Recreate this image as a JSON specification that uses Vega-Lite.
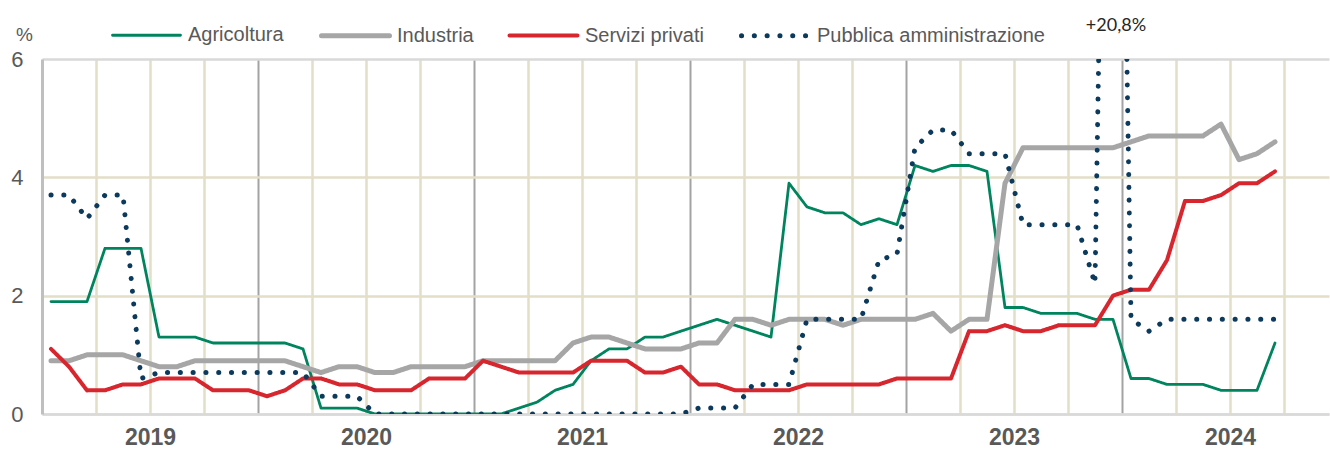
{
  "$schema": "https://vega.github.io/schema/vega-lite/v6.json",
  "width": 1287,
  "height": 355,
  "autosize": {"type": "none"},
  "padding": {"left": 42, "top": 59, "right": 1, "bottom": 35},
  "background": "#ffffff",
  "datasets": {
    "serie": [
      {"m":1,"s":"Agricoltura","v":1.9},{"m":2,"s":"Agricoltura","v":1.9},{"m":3,"s":"Agricoltura","v":1.9},{"m":4,"s":"Agricoltura","v":2.8},{"m":5,"s":"Agricoltura","v":2.8},{"m":6,"s":"Agricoltura","v":2.8},
      {"m":7,"s":"Agricoltura","v":1.3},{"m":8,"s":"Agricoltura","v":1.3},{"m":9,"s":"Agricoltura","v":1.3},{"m":10,"s":"Agricoltura","v":1.2},{"m":11,"s":"Agricoltura","v":1.2},{"m":12,"s":"Agricoltura","v":1.2},
      {"m":13,"s":"Agricoltura","v":1.2},{"m":14,"s":"Agricoltura","v":1.2},{"m":15,"s":"Agricoltura","v":1.1},{"m":16,"s":"Agricoltura","v":0.1},{"m":17,"s":"Agricoltura","v":0.1},{"m":18,"s":"Agricoltura","v":0.1},
      {"m":19,"s":"Agricoltura","v":0},{"m":20,"s":"Agricoltura","v":0},{"m":21,"s":"Agricoltura","v":0},{"m":22,"s":"Agricoltura","v":0},{"m":23,"s":"Agricoltura","v":0},{"m":24,"s":"Agricoltura","v":0},
      {"m":25,"s":"Agricoltura","v":0},{"m":26,"s":"Agricoltura","v":0},{"m":27,"s":"Agricoltura","v":0.1},{"m":28,"s":"Agricoltura","v":0.2},{"m":29,"s":"Agricoltura","v":0.4},{"m":30,"s":"Agricoltura","v":0.5},
      {"m":31,"s":"Agricoltura","v":0.9},{"m":32,"s":"Agricoltura","v":1.1},{"m":33,"s":"Agricoltura","v":1.1},{"m":34,"s":"Agricoltura","v":1.3},{"m":35,"s":"Agricoltura","v":1.3},{"m":36,"s":"Agricoltura","v":1.4},
      {"m":37,"s":"Agricoltura","v":1.5},{"m":38,"s":"Agricoltura","v":1.6},{"m":39,"s":"Agricoltura","v":1.5},{"m":40,"s":"Agricoltura","v":1.4},{"m":41,"s":"Agricoltura","v":1.3},{"m":42,"s":"Agricoltura","v":3.9},
      {"m":43,"s":"Agricoltura","v":3.5},{"m":44,"s":"Agricoltura","v":3.4},{"m":45,"s":"Agricoltura","v":3.4},{"m":46,"s":"Agricoltura","v":3.2},{"m":47,"s":"Agricoltura","v":3.3},{"m":48,"s":"Agricoltura","v":3.2},
      {"m":49,"s":"Agricoltura","v":4.2},{"m":50,"s":"Agricoltura","v":4.1},{"m":51,"s":"Agricoltura","v":4.2},{"m":52,"s":"Agricoltura","v":4.2},{"m":53,"s":"Agricoltura","v":4.1},{"m":54,"s":"Agricoltura","v":1.8},
      {"m":55,"s":"Agricoltura","v":1.8},{"m":56,"s":"Agricoltura","v":1.7},{"m":57,"s":"Agricoltura","v":1.7},{"m":58,"s":"Agricoltura","v":1.7},{"m":59,"s":"Agricoltura","v":1.6},{"m":60,"s":"Agricoltura","v":1.6},
      {"m":61,"s":"Agricoltura","v":0.6},{"m":62,"s":"Agricoltura","v":0.6},{"m":63,"s":"Agricoltura","v":0.5},{"m":64,"s":"Agricoltura","v":0.5},{"m":65,"s":"Agricoltura","v":0.5},{"m":66,"s":"Agricoltura","v":0.4},
      {"m":67,"s":"Agricoltura","v":0.4},{"m":68,"s":"Agricoltura","v":0.4},{"m":69,"s":"Agricoltura","v":1.2},

      {"m":1,"s":"Industria","v":0.9},{"m":2,"s":"Industria","v":0.9},{"m":3,"s":"Industria","v":1.0},{"m":4,"s":"Industria","v":1.0},{"m":5,"s":"Industria","v":1.0},{"m":6,"s":"Industria","v":0.9},
      {"m":7,"s":"Industria","v":0.8},{"m":8,"s":"Industria","v":0.8},{"m":9,"s":"Industria","v":0.9},{"m":10,"s":"Industria","v":0.9},{"m":11,"s":"Industria","v":0.9},{"m":12,"s":"Industria","v":0.9},
      {"m":13,"s":"Industria","v":0.9},{"m":14,"s":"Industria","v":0.9},{"m":15,"s":"Industria","v":0.8},{"m":16,"s":"Industria","v":0.7},{"m":17,"s":"Industria","v":0.8},{"m":18,"s":"Industria","v":0.8},
      {"m":19,"s":"Industria","v":0.7},{"m":20,"s":"Industria","v":0.7},{"m":21,"s":"Industria","v":0.8},{"m":22,"s":"Industria","v":0.8},{"m":23,"s":"Industria","v":0.8},{"m":24,"s":"Industria","v":0.8},
      {"m":25,"s":"Industria","v":0.9},{"m":26,"s":"Industria","v":0.9},{"m":27,"s":"Industria","v":0.9},{"m":28,"s":"Industria","v":0.9},{"m":29,"s":"Industria","v":0.9},{"m":30,"s":"Industria","v":1.2},
      {"m":31,"s":"Industria","v":1.3},{"m":32,"s":"Industria","v":1.3},{"m":33,"s":"Industria","v":1.2},{"m":34,"s":"Industria","v":1.1},{"m":35,"s":"Industria","v":1.1},{"m":36,"s":"Industria","v":1.1},
      {"m":37,"s":"Industria","v":1.2},{"m":38,"s":"Industria","v":1.2},{"m":39,"s":"Industria","v":1.6},{"m":40,"s":"Industria","v":1.6},{"m":41,"s":"Industria","v":1.5},{"m":42,"s":"Industria","v":1.6},
      {"m":43,"s":"Industria","v":1.6},{"m":44,"s":"Industria","v":1.6},{"m":45,"s":"Industria","v":1.5},{"m":46,"s":"Industria","v":1.6},{"m":47,"s":"Industria","v":1.6},{"m":48,"s":"Industria","v":1.6},
      {"m":49,"s":"Industria","v":1.6},{"m":50,"s":"Industria","v":1.7},{"m":51,"s":"Industria","v":1.4},{"m":52,"s":"Industria","v":1.6},{"m":53,"s":"Industria","v":1.6},{"m":54,"s":"Industria","v":3.9},
      {"m":55,"s":"Industria","v":4.5},{"m":56,"s":"Industria","v":4.5},{"m":57,"s":"Industria","v":4.5},{"m":58,"s":"Industria","v":4.5},{"m":59,"s":"Industria","v":4.5},{"m":60,"s":"Industria","v":4.5},
      {"m":61,"s":"Industria","v":4.6},{"m":62,"s":"Industria","v":4.7},{"m":63,"s":"Industria","v":4.7},{"m":64,"s":"Industria","v":4.7},{"m":65,"s":"Industria","v":4.7},{"m":66,"s":"Industria","v":4.9},
      {"m":67,"s":"Industria","v":4.3},{"m":68,"s":"Industria","v":4.4},{"m":69,"s":"Industria","v":4.6},

      {"m":1,"s":"Servizi privati","v":1.1},{"m":2,"s":"Servizi privati","v":0.8},{"m":3,"s":"Servizi privati","v":0.4},{"m":4,"s":"Servizi privati","v":0.4},{"m":5,"s":"Servizi privati","v":0.5},{"m":6,"s":"Servizi privati","v":0.5},
      {"m":7,"s":"Servizi privati","v":0.6},{"m":8,"s":"Servizi privati","v":0.6},{"m":9,"s":"Servizi privati","v":0.6},{"m":10,"s":"Servizi privati","v":0.4},{"m":11,"s":"Servizi privati","v":0.4},{"m":12,"s":"Servizi privati","v":0.4},
      {"m":13,"s":"Servizi privati","v":0.3},{"m":14,"s":"Servizi privati","v":0.4},{"m":15,"s":"Servizi privati","v":0.6},{"m":16,"s":"Servizi privati","v":0.6},{"m":17,"s":"Servizi privati","v":0.5},{"m":18,"s":"Servizi privati","v":0.5},
      {"m":19,"s":"Servizi privati","v":0.4},{"m":20,"s":"Servizi privati","v":0.4},{"m":21,"s":"Servizi privati","v":0.4},{"m":22,"s":"Servizi privati","v":0.6},{"m":23,"s":"Servizi privati","v":0.6},{"m":24,"s":"Servizi privati","v":0.6},
      {"m":25,"s":"Servizi privati","v":0.9},{"m":26,"s":"Servizi privati","v":0.8},{"m":27,"s":"Servizi privati","v":0.7},{"m":28,"s":"Servizi privati","v":0.7},{"m":29,"s":"Servizi privati","v":0.7},{"m":30,"s":"Servizi privati","v":0.7},
      {"m":31,"s":"Servizi privati","v":0.9},{"m":32,"s":"Servizi privati","v":0.9},{"m":33,"s":"Servizi privati","v":0.9},{"m":34,"s":"Servizi privati","v":0.7},{"m":35,"s":"Servizi privati","v":0.7},{"m":36,"s":"Servizi privati","v":0.8},
      {"m":37,"s":"Servizi privati","v":0.5},{"m":38,"s":"Servizi privati","v":0.5},{"m":39,"s":"Servizi privati","v":0.4},{"m":40,"s":"Servizi privati","v":0.4},{"m":41,"s":"Servizi privati","v":0.4},{"m":42,"s":"Servizi privati","v":0.4},
      {"m":43,"s":"Servizi privati","v":0.5},{"m":44,"s":"Servizi privati","v":0.5},{"m":45,"s":"Servizi privati","v":0.5},{"m":46,"s":"Servizi privati","v":0.5},{"m":47,"s":"Servizi privati","v":0.5},{"m":48,"s":"Servizi privati","v":0.6},
      {"m":49,"s":"Servizi privati","v":0.6},{"m":50,"s":"Servizi privati","v":0.6},{"m":51,"s":"Servizi privati","v":0.6},{"m":52,"s":"Servizi privati","v":1.4},{"m":53,"s":"Servizi privati","v":1.4},{"m":54,"s":"Servizi privati","v":1.5},
      {"m":55,"s":"Servizi privati","v":1.4},{"m":56,"s":"Servizi privati","v":1.4},{"m":57,"s":"Servizi privati","v":1.5},{"m":58,"s":"Servizi privati","v":1.5},{"m":59,"s":"Servizi privati","v":1.5},{"m":60,"s":"Servizi privati","v":2.0},
      {"m":61,"s":"Servizi privati","v":2.1},{"m":62,"s":"Servizi privati","v":2.1},{"m":63,"s":"Servizi privati","v":2.6},{"m":64,"s":"Servizi privati","v":3.6},{"m":65,"s":"Servizi privati","v":3.6},{"m":66,"s":"Servizi privati","v":3.7},
      {"m":67,"s":"Servizi privati","v":3.9},{"m":68,"s":"Servizi privati","v":3.9},{"m":69,"s":"Servizi privati","v":4.1},

      {"m":1,"s":"Pubblica amministrazione","v":3.7},{"m":2,"s":"Pubblica amministrazione","v":3.7},{"m":3,"s":"Pubblica amministrazione","v":3.3},{"m":4,"s":"Pubblica amministrazione","v":3.7},{"m":5,"s":"Pubblica amministrazione","v":3.7},{"m":6,"s":"Pubblica amministrazione","v":0.6},
      {"m":7,"s":"Pubblica amministrazione","v":0.7},{"m":8,"s":"Pubblica amministrazione","v":0.7},{"m":9,"s":"Pubblica amministrazione","v":0.7},{"m":10,"s":"Pubblica amministrazione","v":0.7},{"m":11,"s":"Pubblica amministrazione","v":0.7},{"m":12,"s":"Pubblica amministrazione","v":0.7},
      {"m":13,"s":"Pubblica amministrazione","v":0.7},{"m":14,"s":"Pubblica amministrazione","v":0.7},{"m":15,"s":"Pubblica amministrazione","v":0.7},{"m":16,"s":"Pubblica amministrazione","v":0.3},{"m":17,"s":"Pubblica amministrazione","v":0.3},{"m":18,"s":"Pubblica amministrazione","v":0.3},
      {"m":19,"s":"Pubblica amministrazione","v":0},{"m":20,"s":"Pubblica amministrazione","v":0},{"m":21,"s":"Pubblica amministrazione","v":0},{"m":22,"s":"Pubblica amministrazione","v":0},{"m":23,"s":"Pubblica amministrazione","v":0},{"m":24,"s":"Pubblica amministrazione","v":0},
      {"m":25,"s":"Pubblica amministrazione","v":0},{"m":26,"s":"Pubblica amministrazione","v":0},{"m":27,"s":"Pubblica amministrazione","v":0},{"m":28,"s":"Pubblica amministrazione","v":0},{"m":29,"s":"Pubblica amministrazione","v":0},{"m":30,"s":"Pubblica amministrazione","v":0},
      {"m":31,"s":"Pubblica amministrazione","v":0},{"m":32,"s":"Pubblica amministrazione","v":0},{"m":33,"s":"Pubblica amministrazione","v":0},{"m":34,"s":"Pubblica amministrazione","v":0},{"m":35,"s":"Pubblica amministrazione","v":0},{"m":36,"s":"Pubblica amministrazione","v":0},
      {"m":37,"s":"Pubblica amministrazione","v":0.1},{"m":38,"s":"Pubblica amministrazione","v":0.1},{"m":39,"s":"Pubblica amministrazione","v":0.1},{"m":40,"s":"Pubblica amministrazione","v":0.5},{"m":41,"s":"Pubblica amministrazione","v":0.5},{"m":42,"s":"Pubblica amministrazione","v":0.5},
      {"m":43,"s":"Pubblica amministrazione","v":1.6},{"m":44,"s":"Pubblica amministrazione","v":1.6},{"m":45,"s":"Pubblica amministrazione","v":1.6},{"m":46,"s":"Pubblica amministrazione","v":1.6},{"m":47,"s":"Pubblica amministrazione","v":2.6},{"m":48,"s":"Pubblica amministrazione","v":2.7},
      {"m":49,"s":"Pubblica amministrazione","v":4.5},{"m":50,"s":"Pubblica amministrazione","v":4.8},{"m":51,"s":"Pubblica amministrazione","v":4.8},{"m":52,"s":"Pubblica amministrazione","v":4.4},{"m":53,"s":"Pubblica amministrazione","v":4.4},{"m":54,"s":"Pubblica amministrazione","v":4.4},
      {"m":55,"s":"Pubblica amministrazione","v":3.2},{"m":56,"s":"Pubblica amministrazione","v":3.2},{"m":57,"s":"Pubblica amministrazione","v":3.2},{"m":58,"s":"Pubblica amministrazione","v":3.2},{"m":59,"s":"Pubblica amministrazione","v":2.2},{"m":60,"s":"Pubblica amministrazione","v":20.8},
      {"m":61,"s":"Pubblica amministrazione","v":1.6},{"m":62,"s":"Pubblica amministrazione","v":1.4},{"m":63,"s":"Pubblica amministrazione","v":1.6},{"m":64,"s":"Pubblica amministrazione","v":1.6},{"m":65,"s":"Pubblica amministrazione","v":1.6},{"m":66,"s":"Pubblica amministrazione","v":1.6},
      {"m":67,"s":"Pubblica amministrazione","v":1.6},{"m":68,"s":"Pubblica amministrazione","v":1.6},{"m":69,"s":"Pubblica amministrazione","v":1.6}
    ],
    "nota": [
      {"m": 60, "v": 6.55, "label": "+20,8%"}
    ]
  },
  "layer": [
    {
      "data": {"name": "serie"},
      "mark": {"type": "line", "clip": true, "strokeCap": "round", "strokeJoin": "round"},
      "encoding": {
        "x": {
          "field": "m", "type": "quantitative",
          "scale": {"domain": [0.5, 72], "nice": false, "zero": false},
          "axis": {
            "values": [3.5, 6.5, 9.5, 12.5, 15.5, 18.5, 21.5, 24.5, 27.5, 30.5, 33.5, 36.5, 39.5, 42.5, 45.5, 48.5, 51.5, 54.5, 57.5, 60.5, 63.5, 66.5, 69.5],
            "labelExpr": "(datum.value - 6.5) % 12 == 0 ? toString(2019 + (datum.value - 6.5) / 12) : ''",
            "title": null,
            "grid": true,
            "gridColor": {"condition": {"test": "(datum.value - 0.5) % 12 == 0", "value": "#a3a3a3"}, "value": "#e3dec8"},
            "gridWidth": {"condition": {"test": "(datum.value - 0.5) % 12 == 0", "value": 2}, "value": 2.5},
            "domainColor": "#d9d9d9",
            "domainWidth": 2.5,
            "labelFontSize": 23,
            "labelFontWeight": "bold",
            "labelColor": "#595959",
            "labelBaseline": "middle",
            "labelPadding": 23,
            "labelDx": 6.5,
            "labelOverlap": false,
            "labelFlush": false
          }
        },
        "y": {
          "field": "v", "type": "quantitative",
          "scale": {"domain": [0, 6], "nice": false, "zero": true},
          "axis": {
            "values": [0, 2, 4, 6],
            "format": "d",
            "title": "%",
            "titleAngle": 0,
            "titleX": -18,
            "titleY": -25,
            "titleAlign": "center",
            "titleBaseline": "middle",
            "titleFontSize": 19,
            "titleFontWeight": "normal",
            "titleColor": "#595959",
            "grid": true,
            "gridColor": {"condition": {"test": "datum.value == 6", "value": "#d9d9d9"}, "value": "#e3dec8"},
            "gridWidth": 2.5,
            "domainColor": "#bfbfbf",
            "domainWidth": 3,
            "labelFontSize": 22,
            "labelColor": "#595959",
            "labelPadding": 19
          }
        },
        "color": {
          "field": "s", "type": "nominal", "title": null,
          "scale": {
            "domain": ["Agricoltura", "Industria", "Servizi privati", "Pubblica amministrazione"],
            "range": ["#00845e", "#a6a6a6", "#d7262e", "#0b3a5c"]
          },
          "legend": {
            "encode": {"symbols": {"update": {"strokeCap": {"value": "round"}}}}
          }
        },
        "strokeDash": {
          "field": "s", "type": "nominal", "title": null,
          "scale": {
            "domain": ["Agricoltura", "Industria", "Servizi privati", "Pubblica amministrazione"],
            "range": [[1, 0], [1, 0], [1, 0], [0.1, 12.7]]
          }
        },
        "strokeWidth": {
          "field": "s", "type": "nominal", "title": null,
          "scale": {
            "type": "ordinal",
            "domain": ["Agricoltura", "Industria", "Servizi privati", "Pubblica amministrazione"],
            "range": [2.8, 5, 4, 5]
          }
        }
      }
    },
    {
      "data": {"name": "nota"},
      "mark": {"type": "text", "font": "Lato", "fontSize": 18, "color": "#262626", "align": "center", "baseline": "middle", "dx": 3},
      "encoding": {
        "x": {"field": "m", "type": "quantitative"},
        "y": {"field": "v", "type": "quantitative"},
        "text": {"field": "label"}
      }
    }
  ],
  "config": {
    "view": {"stroke": null},
    "font": "Liberation Sans",
    "axis": {"ticks": false, "tickSize": 0, "labelFont": "Liberation Sans", "titleFont": "Liberation Sans"},
    "legend": {
      "orient": "none",
      "legendX": 68,
      "legendY": -60,
      "direction": "horizontal",
      "columns": 4,
      "symbolType": "stroke",
      "symbolSize": 4624,
      "labelFont": "Liberation Sans",
      "labelFontSize": 20,
      "labelColor": "#595959",
      "labelOffset": 5,
      "columnPadding": 27,
      "padding": 0,
      "labelLimit": 400
    }
  }
}
